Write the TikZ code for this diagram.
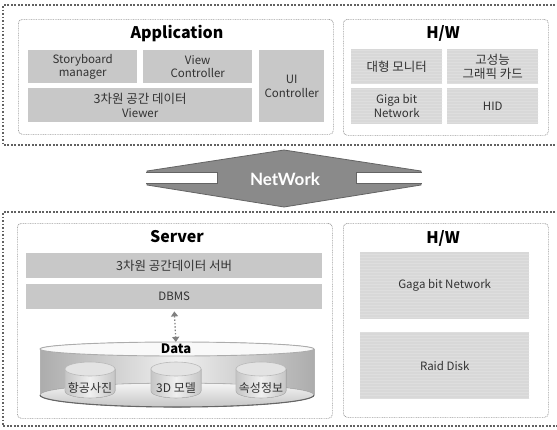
\documentclass[tikz,border=0pt]{standalone}
\usepackage{fontspec}
\setmainfont{Noto Sans CJK KR}
\newfontfamily\latofont{Lato}
\usetikzlibrary{patterns,arrows.meta}
\definecolor{boxgray}{RGB}{200,200,200}
\definecolor{hwgray}{RGB}{216,216,216}
\definecolor{txtgray}{RGB}{50,50,50}
\definecolor{arrowgray}{RGB}{138,138,138}
\definecolor{arrowdark}{RGB}{100,100,100}
\newcommand{\kr}[1]{{\fontsize{12.5}{14}\selectfont #1}}
\begin{document}
\begin{tikzpicture}[x=1pt,y=-1pt,
  outer/.style={draw=black!62, line width=1.6pt, dash pattern=on 1.6pt off 1.9pt},
  panel/.style={draw=black!40, line width=0.7pt, dash pattern=on 0.9pt off 0.8pt, rounded corners=4pt, anchor=north west, inner sep=0pt},
  blk/.style={anchor=north west, fill=boxgray, inner sep=0pt, align=center, font=\fontsize{11.5}{13.5}\selectfont, text=txtgray},
  hwblk/.style={blk, fill=hwgray, postaction={pattern=horizontal lines, pattern color=black!13}},
  ttl/.style={font=\bfseries\fontsize{16}{19}\selectfont, text=black, inner sep=0pt},
  lbl/.style={font=\fontsize{12}{14}\selectfont, text=txtgray, inner sep=0pt},
]
\useasboundingbox (0,0) rectangle (557,429);
% ---------- top outer frame ----------
\draw[outer] (562,5) -- (3,5) -- (3,145) -- (562,145);
% Application panel
\node[panel, minimum width=315pt, minimum height=115pt] (app) at (18,19) {};
\node[ttl] (apptitle) at (177,34) {Application};
\node[blk, minimum width=109pt, minimum height=33pt] (sb) at (28,50) {Storyboard\\manager};
\node[blk, minimum width=109pt, minimum height=33pt] (vc) at (143,50) {View\\Controller};
\node[blk, minimum width=224pt, minimum height=34pt] (vw) at (28,88) {\kr{3차원 공간 데이터}\\Viewer};
\node[blk, minimum width=65pt, minimum height=72pt] (ui) at (259,50) {UI\\Controller};
% H/W top panel
\node[panel, minimum width=205pt, minimum height=116pt] (hw1) at (343,19) {};
\node[ttl] (hw1title) at (443,33) {H/W};
\node[hwblk, minimum width=91pt, minimum height=35pt] (mon) at (351,49) {\kr{대형 모니터}};
\node[hwblk, minimum width=91pt, minimum height=35pt] (gpu) at (447,49) {\kr{고성능}\\\kr{그래픽 카드}};
\node[hwblk, minimum width=91pt, minimum height=36pt] (gbn) at (351,88) {Giga bit\\Network};
\node[hwblk, minimum width=91pt, minimum height=36pt] (hid) at (447,88) {HID};
% ---------- NetWork arrow ----------
\path[fill=arrowgray, draw=arrowdark, line width=0.8pt]
  (147,171) -- (284,150) -- (421,171) -- (421,185) -- (284,207) -- (147,185) -- cycle;
\fill[white] (146,172.5) rectangle (217,183.5);
\draw[arrowdark, line width=0.8pt] (146,172.5) -- (217,172.5) -- (217,183.5) -- (146,183.5);
\fill[white] (356,172.5) rectangle (422,183.5);
\draw[arrowdark, line width=0.8pt] (422,172.5) -- (356,172.5) -- (356,183.5) -- (422,183.5);
\node[font=\latofont\bfseries\fontsize{17}{20}\selectfont, text=white, inner sep=0pt] (net) at (285,179) {NetWork};
% ---------- bottom outer frame ----------
\draw[outer] (562,212) -- (3,212) -- (3,426) -- (562,426);
% Server panel
\node[panel, minimum width=315pt, minimum height=195pt] (srv) at (17,223) {};
\node[ttl] (srvtitle) at (177,237) {Server};
\node[blk, minimum width=296pt, minimum height=25pt] (srvbar) at (26,253) {\kr{3차원 공간데이터 서버}};
\node[blk, minimum width=296pt, minimum height=25pt] (dbms) at (26,284) {DBMS};
% Data cylinder
\fill[left color=gray!65, right color=gray!65, middle color=gray!12]
  (40,349) -- (40,395) arc[start angle=180, end angle=0, x radius=137, y radius=12]
  -- (314,349) arc[start angle=0, end angle=-180, x radius=137, y radius=7] -- cycle;
\draw[gray!60, line width=0.6pt] (40,349) -- (40,395) (314,349) -- (314,395);
\filldraw[top color=gray!8, bottom color=gray!45, draw=gray!60, line width=0.6pt]
  (177,395) ellipse[x radius=137, y radius=12];
\draw[black!60, line width=1.1pt] (40,395) arc[start angle=180, end angle=0, x radius=137, y radius=12];
\filldraw[fill=gray!5, draw=gray!65, line width=0.9pt] (177,349) ellipse[x radius=137, y radius=7];
\node[font=\bfseries\fontsize{13}{15}\selectfont, text=black, inner sep=0pt] (datalbl) at (176,349) {Data};
% small cylinders
\foreach \cx/\txt/\nm in {90/항공사진/aero, 176/3D 모델/model, 261/속성정보/attr}{
  \filldraw[left color=gray!45, right color=gray!45, middle color=gray!12, draw=gray!55, line width=0.6pt]
    (\cx-25,369) -- (\cx-25,391) arc[start angle=180, end angle=0, x radius=25, y radius=7]
    -- (\cx+25,369) -- cycle;
  \filldraw[fill=gray!22, draw=gray!55, line width=0.6pt] (\cx,369) ellipse[x radius=25, y radius=7];
  \node[lbl] (\nm) at (\cx,388) {\txt};
}
% DBMS <-> Data connector
\draw[black!50, line width=1.3pt, dash pattern=on 1.4pt off 2pt,
  {Triangle[width=7pt,length=5pt]}-{Triangle[width=7pt,length=5pt]},
  shorten <=2pt, shorten >=2pt] (dbms.south) -- (datalbl.north);
% H/W bottom panel
\node[panel, minimum width=205pt, minimum height=194pt] (hw2) at (343,223) {};
\node[ttl] (hw2title) at (443,238) {H/W};
\node[hwblk, minimum width=169pt, minimum height=67pt] (gaga) at (360,252) {Gaga bit Network};
\node[hwblk, minimum width=169pt, minimum height=67pt] (raid) at (360,332) {Raid Disk};
\end{tikzpicture}
\end{document}
